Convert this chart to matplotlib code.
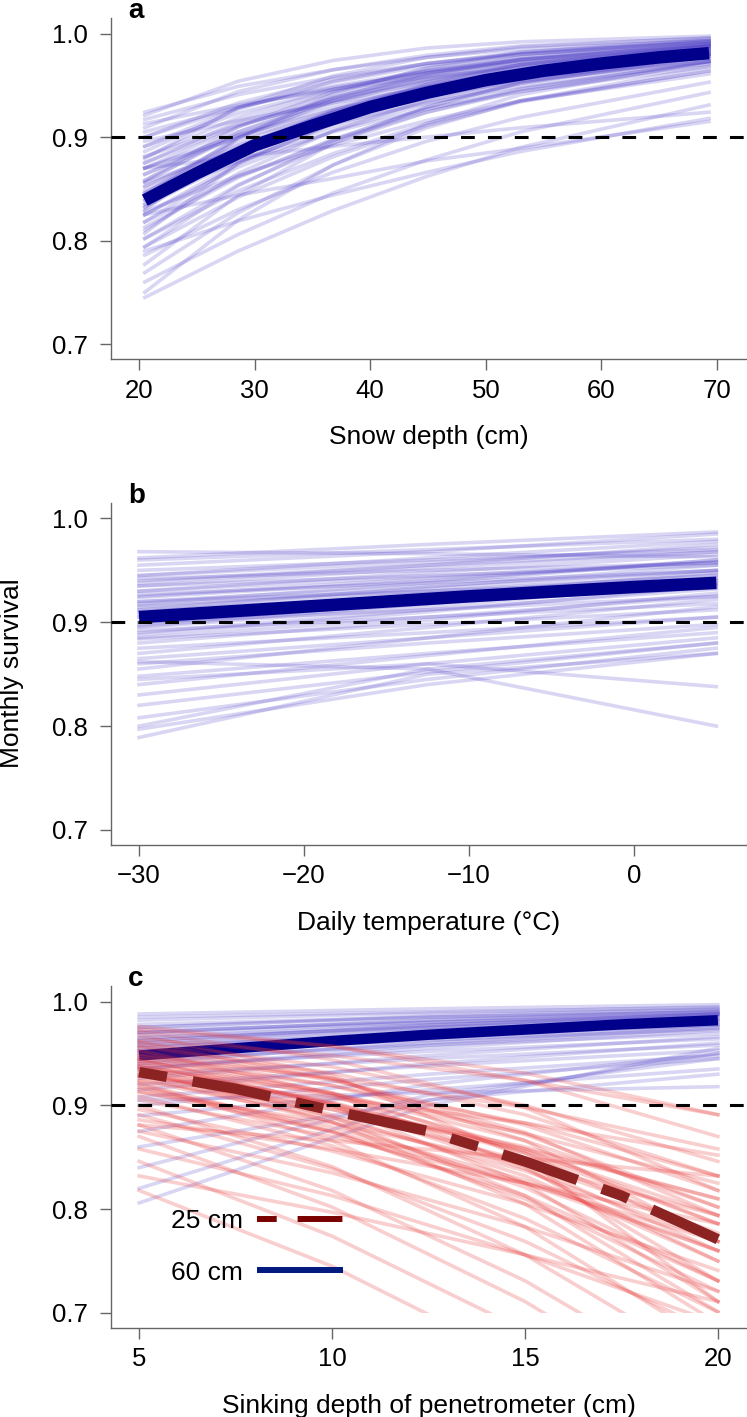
import numpy as np
import matplotlib
matplotlib.use('Agg')
import matplotlib.pyplot as plt
from matplotlib.lines import Line2D
from matplotlib.patches import Rectangle
from matplotlib.ticker import FormatStrFormatter

plt.rcParams['font.family'] = ['Liberation Sans', 'DejaVu Sans']

# ---- panel a: snow depth ----
snow_x = [20.5, 28.6, 36.8, 44.9, 53.0, 69.3]
snow_draws = [
    [0.924, 0.949, 0.965, 0.977, 0.985, 0.993],
    [0.917, 0.941, 0.958, 0.971, 0.980, 0.990],
    [0.909, 0.944, 0.965, 0.979, 0.988, 0.9955],
    [0.905, 0.929, 0.948, 0.962, 0.972, 0.985],
    [0.900, 0.933, 0.956, 0.971, 0.981, 0.992],
    [0.896, 0.916, 0.933, 0.947, 0.958, 0.973],
    [0.891, 0.923, 0.946, 0.963, 0.974, 0.988],
    [0.886, 0.927, 0.954, 0.971, 0.982, 0.993],
    [0.881, 0.912, 0.935, 0.953, 0.965, 0.982],
    [0.875, 0.915, 0.943, 0.962, 0.975, 0.989],
    [0.870, 0.902, 0.926, 0.945, 0.960, 0.978],
    [0.864, 0.905, 0.935, 0.956, 0.970, 0.987],
    [0.858, 0.910, 0.944, 0.966, 0.980, 0.993],
    [0.856, 0.888, 0.913, 0.933, 0.949, 0.971],
    [0.852, 0.895, 0.926, 0.949, 0.965, 0.984],
    [0.848, 0.889, 0.921, 0.943, 0.960, 0.980],
    [0.846, 0.899, 0.935, 0.959, 0.974, 0.990],
    [0.842, 0.876, 0.905, 0.927, 0.944, 0.968],
    [0.839, 0.888, 0.924, 0.949, 0.966, 0.985],
    [0.835, 0.877, 0.910, 0.935, 0.953, 0.976],
    [0.832, 0.888, 0.926, 0.953, 0.970, 0.988],
    [0.828, 0.863, 0.892, 0.916, 0.935, 0.961],
    [0.825, 0.875, 0.913, 0.940, 0.959, 0.981],
    [0.818, 0.874, 0.914, 0.943, 0.962, 0.984],
    [0.813, 0.861, 0.898, 0.927, 0.947, 0.973],
    [0.807, 0.875, 0.921, 0.951, 0.970, 0.989],
    [0.802, 0.848, 0.884, 0.913, 0.935, 0.964],
    [0.794, 0.853, 0.897, 0.929, 0.952, 0.978],
    [0.786, 0.830, 0.866, 0.896, 0.919, 0.953],
    [0.777, 0.844, 0.894, 0.929, 0.953, 0.980],
    [0.769, 0.827, 0.873, 0.909, 0.935, 0.968],
    [0.760, 0.806, 0.846, 0.878, 0.905, 0.943],
    [0.750, 0.820, 0.873, 0.913, 0.941, 0.973],
    [0.745, 0.790, 0.829, 0.862, 0.890, 0.931],
    [0.870, 0.881, 0.891, 0.900, 0.909, 0.924],
    [0.790, 0.819, 0.844, 0.866, 0.886, 0.918],
    [0.825, 0.844, 0.860, 0.877, 0.889, 0.915],
    [0.921, 0.954, 0.974, 0.986, 0.992, 0.9975],
    [0.879, 0.929, 0.959, 0.977, 0.987, 0.996],
    [0.829, 0.899, 0.942, 0.967, 0.982, 0.9945],
    [0.913, 0.931, 0.946, 0.958, 0.967, 0.980],
    # central draws
    [0.825, 0.871, 0.906, 0.932, 0.952, 0.976],
    [0.832, 0.881, 0.917, 0.943, 0.961, 0.982],
    [0.839, 0.882, 0.914, 0.939, 0.956, 0.978],
    [0.846, 0.891, 0.924, 0.948, 0.964, 0.984],
    [0.852, 0.892, 0.922, 0.944, 0.960, 0.980],
    [0.858, 0.902, 0.933, 0.955, 0.970, 0.987],
    [0.864, 0.901, 0.929, 0.949, 0.964, 0.982],
    [0.870, 0.910, 0.939, 0.959, 0.973, 0.988],
    [0.875, 0.911, 0.937, 0.956, 0.969, 0.985],
    [0.881, 0.919, 0.946, 0.964, 0.977, 0.990],
    [0.818, 0.862, 0.897, 0.924, 0.944, 0.971],
    [0.810, 0.865, 0.906, 0.936, 0.956, 0.980],
    [0.802, 0.854, 0.894, 0.924, 0.946, 0.973],
    [0.835, 0.888, 0.925, 0.951, 0.968, 0.987],
    [0.856, 0.905, 0.938, 0.960, 0.975, 0.990],
    [0.891, 0.928, 0.953, 0.969, 0.980, 0.992],
    [0.794, 0.842, 0.881, 0.911, 0.934, 0.964],
    [0.870, 0.899, 0.922, 0.940, 0.954, 0.973],
    [0.900, 0.929, 0.949, 0.964, 0.975, 0.988],
    [0.843, 0.900, 0.938, 0.962, 0.977, 0.992],
]
snow_mean_x = [20.5, 25, 30, 35, 40, 45, 50, 55, 60, 65, 69.3]
snow_mean = [0.839, 0.865, 0.892, 0.911, 0.929, 0.943, 0.955, 0.964, 0.971, 0.977, 0.981]

# ---- panel b: daily temperature ----
temp_x = [-30, -12.5, 5]
temp_draws = [
    [0.968, 0.966, 0.963], [0.962, 0.975, 0.987], [0.960, 0.970, 0.980], [0.955, 0.968, 0.985],
    [0.950, 0.960, 0.970], [0.945, 0.958, 0.972], [0.942, 0.950, 0.957], [0.938, 0.955, 0.975],
    [0.935, 0.945, 0.955], [0.930, 0.944, 0.958], [0.927, 0.938, 0.950], [0.924, 0.940, 0.960],
    [0.920, 0.930, 0.940], [0.916, 0.932, 0.950], [0.912, 0.925, 0.937], [0.908, 0.920, 0.933],
    [0.905, 0.925, 0.948], [0.900, 0.912, 0.925], [0.896, 0.918, 0.943], [0.892, 0.905, 0.918],
    [0.888, 0.910, 0.935], [0.884, 0.898, 0.912], [0.880, 0.902, 0.928], [0.875, 0.890, 0.905],
    [0.870, 0.895, 0.922], [0.865, 0.885, 0.905], [0.860, 0.880, 0.898], [0.855, 0.885, 0.915],
    [0.848, 0.870, 0.890], [0.840, 0.868, 0.895], [0.830, 0.860, 0.885], [0.820, 0.852, 0.880],
    [0.808, 0.845, 0.875], [0.797, 0.840, 0.870], [0.862, 0.855, 0.800], [0.845, 0.860, 0.838],
    [0.789, 0.850, 0.870], [0.800, 0.855, 0.880],
    # central draws
    [0.915, 0.930, 0.945], [0.910, 0.928, 0.946], [0.900, 0.918, 0.936], [0.895, 0.915, 0.938],
    [0.920, 0.935, 0.950], [0.925, 0.942, 0.958], [0.905, 0.922, 0.940], [0.890, 0.912, 0.932],
    [0.930, 0.948, 0.965], [0.935, 0.952, 0.968], [0.912, 0.934, 0.955], [0.898, 0.920, 0.942],
    [0.918, 0.938, 0.960], [0.940, 0.955, 0.968], [0.885, 0.905, 0.925], [0.945, 0.962, 0.978],
]
temp_mean_x = [-30, -20, -10, 0, 5]
temp_mean = [0.905, 0.915, 0.925, 0.934, 0.938]

# ---- panel c: penetrometer sinking depth, two snow depths ----
sink_x_60 = [5, 12.5, 20]
sink_draws_60 = [
    [0.988, 0.993, 0.997], [0.985, 0.990, 0.994], [0.982, 0.989, 0.995], [0.978, 0.985, 0.990],
    [0.975, 0.986, 0.993], [0.972, 0.980, 0.987], [0.970, 0.982, 0.991], [0.968, 0.980, 0.989],
    [0.965, 0.975, 0.983], [0.962, 0.977, 0.988], [0.958, 0.968, 0.977], [0.955, 0.970, 0.982],
    [0.952, 0.963, 0.973], [0.948, 0.965, 0.978], [0.945, 0.958, 0.969], [0.942, 0.960, 0.975],
    [0.938, 0.952, 0.964], [0.935, 0.955, 0.972], [0.930, 0.945, 0.958], [0.926, 0.948, 0.966],
    [0.920, 0.938, 0.953], [0.915, 0.940, 0.960], [0.908, 0.930, 0.948], [0.905, 0.912, 0.918],
    [0.900, 0.925, 0.945], [0.890, 0.915, 0.935], [0.875, 0.920, 0.950], [0.860, 0.905, 0.930],
    [0.840, 0.910, 0.945], [0.820, 0.905, 0.950], [0.806, 0.900, 0.955],
    # central draws
    [0.955, 0.972, 0.985], [0.950, 0.970, 0.983], [0.945, 0.965, 0.980], [0.960, 0.975, 0.987],
    [0.965, 0.978, 0.988], [0.940, 0.962, 0.978], [0.970, 0.982, 0.990], [0.958, 0.974, 0.986],
    [0.952, 0.968, 0.981], [0.975, 0.985, 0.992], [0.935, 0.958, 0.975], [0.962, 0.977, 0.988],
]
sink_x_25 = [5, 10, 15, 20]
sink_draws_25 = [
    [0.976, 0.957, 0.924, 0.870], [0.971, 0.944, 0.898, 0.818], [0.964, 0.948, 0.924, 0.891],
    [0.961, 0.926, 0.866, 0.769], [0.957, 0.931, 0.891, 0.832], [0.953, 0.911, 0.841, 0.731],
    [0.950, 0.919, 0.872, 0.802], [0.948, 0.926, 0.898, 0.858], [0.945, 0.900, 0.825, 0.711],
    [0.943, 0.909, 0.858, 0.786], [0.940, 0.900, 0.839, 0.750], [0.937, 0.911, 0.873, 0.825],
    [0.934, 0.884, 0.805, 0.690], [0.931, 0.896, 0.846, 0.777], [0.928, 0.884, 0.821, 0.731],
    [0.924, 0.896, 0.858, 0.810], [0.921, 0.866, 0.783, 0.668], [0.917, 0.879, 0.828, 0.760],
    [0.913, 0.883, 0.843, 0.794], [0.909, 0.861, 0.791, 0.701], [0.905, 0.870, 0.825, 0.769],
    [0.900, 0.841, 0.756, 0.646], [0.896, 0.856, 0.805, 0.741], [0.891, 0.839, 0.769, 0.679],
    [0.886, 0.858, 0.825, 0.786], [0.881, 0.818, 0.731, 0.622], [0.875, 0.835, 0.783, 0.721],
    [0.870, 0.802, 0.711, 0.599], [0.858, 0.813, 0.756, 0.690], [0.846, 0.774, 0.683, 0.574],
    [0.832, 0.797, 0.756, 0.711], [0.818, 0.745, 0.652, 0.550], [0.968, 0.929, 0.849, 0.711],
    [0.973, 0.957, 0.931, 0.891], [0.928, 0.907, 0.883, 0.852], [0.881, 0.866, 0.849, 0.832],
    # central draws
    [0.937, 0.903, 0.854, 0.786], [0.931, 0.891, 0.832, 0.750], [0.943, 0.912, 0.866, 0.802],
    [0.924, 0.888, 0.837, 0.769], [0.948, 0.912, 0.854, 0.769], [0.917, 0.874, 0.813, 0.731],
    [0.953, 0.924, 0.881, 0.818], [0.934, 0.902, 0.856, 0.794], [0.940, 0.902, 0.843, 0.760],
    [0.928, 0.899, 0.860, 0.810], [0.945, 0.919, 0.883, 0.832], [0.921, 0.875, 0.810, 0.721],
    [0.957, 0.925, 0.874, 0.794], [0.913, 0.875, 0.825, 0.760], [0.961, 0.937, 0.900, 0.846],
    [0.937, 0.889, 0.813, 0.701],
]
sink_mean_x = [5, 7.5, 10, 12.5, 15, 17.5, 20]
sink_mean_60 = [0.948, 0.955, 0.962, 0.968, 0.973, 0.978, 0.982]
sink_mean_25 = [0.932, 0.916, 0.895, 0.875, 0.846, 0.813, 0.771]

threshold = 0.9
yticks = [0.7, 0.8, 0.9, 1.0]
legend_labels = ['25 cm', '60 cm']

BLUE_THIN = '#5041c8'
RED_THIN = '#e83636'
BLUE_MEAN = '#00008b'
RED_MEAN = '#8b2323'
GREY = '#666666'
TICK_FS = 18.5
LABEL_FS = 19

fig = plt.figure(figsize=(7.47, 14.17), dpi=100)
left, width = 0.1486, 0.8501
ax_a = fig.add_axes([left, 0.7466, width, 0.2407])
ax_b = fig.add_axes([left, 0.4037, width, 0.2414])
ax_c = fig.add_axes([left, 0.0628, width, 0.2414])


def style(ax, xlim, xticks, xlabel, letter):
    ax.set_xlim(*xlim)
    ax.set_ylim(0.6855, 1.015)
    ax.set_xticks(xticks)
    ax.set_yticks(yticks)
    ax.yaxis.set_major_formatter(FormatStrFormatter('%.1f'))
    for s in ['top', 'right']:
        ax.spines[s].set_visible(False)
    for s in ['left', 'bottom']:
        ax.spines[s].set_color(GREY)
        ax.spines[s].set_linewidth(1.0)
    ax.tick_params(direction='out', length=8, width=1.0, color=GREY,
                   labelcolor='black', labelsize=TICK_FS)
    ax.tick_params(axis='y', pad=9)
    ax.tick_params(axis='x', pad=6)
    ax.set_xlabel(xlabel, fontsize=LABEL_FS, labelpad=16)
    ax.text(0.027, 1.0, letter, transform=ax.transAxes, fontsize=20,
            fontweight='bold', va='baseline', ha='left')
    ax.axhline(threshold, color='black', lw=2.2, dashes=(4.5, 4.3), zorder=10)


def spaghetti(ax, x, rows, color, alpha=0.21, lw=2.6, clip=None):
    for row in rows:
        ln, = ax.plot(x, row, color=color, alpha=alpha, lw=lw)
        if clip is not None:
            ln.set_clip_path(clip)


# panel a
spaghetti(ax_a, snow_x, snow_draws, BLUE_THIN)
ax_a.plot(snow_mean_x, snow_mean, color=BLUE_MEAN, lw=9, solid_capstyle='butt')
style(ax_a, (17.58, 72.5), [20, 30, 40, 50, 60, 70], 'Snow depth (cm)', 'a')

# panel b
spaghetti(ax_b, temp_x, temp_draws, BLUE_THIN)
ax_b.plot(temp_mean_x, temp_mean, color=BLUE_MEAN, lw=9, solid_capstyle='butt')
style(ax_b, (-31.7, 6.8), [-30, -20, -10, 0], 'Daily temperature (°C)', 'b')

# panel c
clip = Rectangle((4.3, 0.7), 16.4, 0.32, transform=ax_c.transData)
spaghetti(ax_c, sink_x_60, sink_draws_60, BLUE_THIN, clip=clip)
ax_c.plot(sink_mean_x, sink_mean_60, color=BLUE_MEAN, lw=7.5, solid_capstyle='butt')
spaghetti(ax_c, sink_x_25, sink_draws_25, RED_THIN, alpha=0.24, clip=clip)
ax_c.plot(sink_mean_x, sink_mean_25, color=RED_MEAN, lw=7.5,
          dashes=(2.7, 2.5, 7.6, 2.5), dash_capstyle='butt')
style(ax_c, (4.27, 20.73), [5, 10, 15, 20], 'Sinking depth of penetrometer (cm)', 'c')

handles = [Line2D([], [], color='#7a0000', lw=4.3, dashes=(3.3, 3.5, 7.5, 3.5), dash_capstyle='butt'),
           Line2D([], [], color='#001a80', lw=4.3, solid_capstyle='butt')]
ax_c.legend(handles, legend_labels, loc='center left', bbox_to_anchor=(0.094, 0.237),
            frameon=False, markerfirst=False, fontsize=LABEL_FS, handlelength=3.26,
            handletextpad=0.53, borderpad=0, borderaxespad=0, labelspacing=1.03)

fig.text(0.0155, 0.525, 'Monthly survival', rotation=90, va='center', ha='center',
         fontsize=LABEL_FS)

fig.savefig('out.png', dpi=100)
